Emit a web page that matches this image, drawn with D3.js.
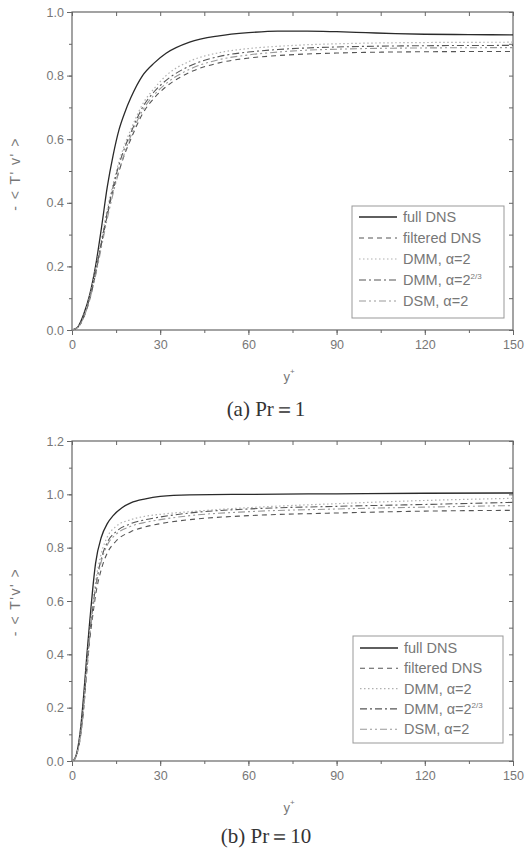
<!DOCTYPE html>
<html><head><meta charset="utf-8">
<script src="https://cdn.jsdelivr.net/npm/d3@7"></script>
<style>body{margin:0;background:#fff}svg{display:block}</style>
</head><body>
<svg id="c" width="530" height="849"></svg>
<script>
// ---- data ----
const seriesNames = ["full DNS", "filtered DNS", "DMM, α=2", "DMM, α=2", "DSM, α=2"];
const seriesSup = ["", "", "", "2/3", ""];
const xTicks = [0, 30, 60, 90, 120, 150];

// Panel (a) Pr=1
const aX = [0, 2, 4, 6, 8, 10, 12, 14, 16, 18, 20, 24, 28, 32, 40, 50, 60, 70, 80, 90, 100, 110, 120, 135, 150];
const aFull = [0, 0.01, 0.05, 0.11, 0.2, 0.32, 0.45, 0.55, 0.63, 0.685, 0.73, 0.8, 0.84, 0.87, 0.905, 0.925, 0.935, 0.94, 0.94, 0.938, 0.935, 0.932, 0.93, 0.929, 0.928];
const aX2 = [0, 2, 4, 6, 8, 10, 12, 14, 16, 18, 20, 24, 28, 32, 40, 50, 60, 70, 80, 90, 100, 120, 150];
const aFilt = [0, 0.008, 0.04, 0.095, 0.175, 0.27, 0.36, 0.44, 0.5, 0.555, 0.6, 0.68, 0.73, 0.765, 0.81, 0.84, 0.855, 0.863, 0.868, 0.871, 0.873, 0.875, 0.876];
const aDmm = [0, 0.009, 0.045, 0.105, 0.19, 0.285, 0.38, 0.46, 0.53, 0.585, 0.63, 0.71, 0.76, 0.8, 0.845, 0.872, 0.885, 0.892, 0.897, 0.9, 0.902, 0.904, 0.905];
const aDmm2 = [0, 0.008, 0.042, 0.1, 0.18, 0.275, 0.37, 0.45, 0.52, 0.575, 0.62, 0.7, 0.75, 0.785, 0.83, 0.86, 0.874, 0.882, 0.887, 0.89, 0.892, 0.894, 0.895];
const aDsm = [0, 0.008, 0.04, 0.095, 0.17, 0.26, 0.35, 0.43, 0.5, 0.56, 0.61, 0.69, 0.74, 0.775, 0.82, 0.85, 0.865, 0.874, 0.88, 0.883, 0.885, 0.887, 0.888];

// Panel (b) Pr=10
const bX = [0, 1, 2, 3, 4, 5, 6, 7, 8, 10, 12, 14, 17, 20, 25, 30, 40, 60, 90, 120, 150];
const bFull = [0, 0.01, 0.05, 0.13, 0.25, 0.39, 0.52, 0.64, 0.74, 0.84, 0.89, 0.92, 0.95, 0.968, 0.983, 0.992, 0.998, 1.0, 1.002, 1.004, 1.005];
const bX2 = [0, 1, 2, 3, 4, 5, 6, 7, 8, 10, 12, 15, 20, 25, 30, 40, 60, 90, 120, 150];
const bFilt = [0, 0.008, 0.04, 0.1, 0.2, 0.33, 0.45, 0.54, 0.62, 0.72, 0.78, 0.825, 0.86, 0.878, 0.89, 0.905, 0.92, 0.93, 0.937, 0.94];
const bDmm = [0, 0.009, 0.045, 0.12, 0.22, 0.36, 0.48, 0.59, 0.67, 0.78, 0.84, 0.88, 0.905, 0.918, 0.925, 0.935, 0.95, 0.965, 0.977, 0.985];
const bDmm2 = [0, 0.009, 0.045, 0.11, 0.21, 0.35, 0.47, 0.57, 0.65, 0.76, 0.82, 0.86, 0.89, 0.905, 0.915, 0.93, 0.945, 0.955, 0.962, 0.97];
const bDsm = [0, 0.008, 0.04, 0.1, 0.2, 0.34, 0.46, 0.56, 0.64, 0.75, 0.81, 0.85, 0.88, 0.895, 0.905, 0.92, 0.935, 0.945, 0.952, 0.958];

const aYTicks = [0, 0.2, 0.4, 0.6, 0.8, 1.0];
const bYTicks = [0, 0.2, 0.4, 0.6, 0.8, 1.0, 1.2];

// ---- styles ----
const styles = [
  {stroke: "#2a2a2a", dash: null, w: 1.3},
  {stroke: "#555", dash: "5,4", w: 1.1},
  {stroke: "#b0b0b0", dash: "1.5,2.5", w: 1.2},
  {stroke: "#555", dash: "7,3,2,3", w: 1.1},
  {stroke: "#999", dash: "7,3,2,3,2,3", w: 1.1}
];

const svg = d3.select("#c");
const axisCol = "#666", textCol = "#777";
const sans = "Liberation Sans, Arial, sans-serif";

function panel(cfg) {
  const x = d3.scaleLinear().domain([0, 150]).range([72, 513]);
  const y = d3.scaleLinear().domain([0, cfg.yMax]).range([cfg.bottom, cfg.top]);
  const g = svg.append("g");
  // frame
  g.append("rect").attr("x", x(0)).attr("y", y(cfg.yMax)).attr("width", x(150) - x(0)).attr("height", y(0) - y(cfg.yMax))
    .attr("fill", "none").attr("stroke", axisCol).attr("stroke-width", 1.2);
  const minorY = d3.range(0, cfg.yMax + 0.001, 0.1);
  const minorX = d3.range(0, 151, 15);
  // left axis
  g.append("g").attr("transform", `translate(${x(0)},0)`)
    .call(d3.axisLeft(y).tickValues(cfg.yTicks).tickFormat(d3.format(".1f")).tickSize(5).tickPadding(3));
  g.append("g").attr("transform", `translate(${x(0)},0)`)
    .call(d3.axisLeft(y).tickValues(minorY).tickFormat("").tickSize(3));
  // right axis inward
  g.append("g").attr("transform", `translate(${x(150)},0)`)
    .call(d3.axisLeft(y).tickValues(minorY).tickFormat("").tickSize(4));
  // bottom
  g.append("g").attr("transform", `translate(0,${y(0)})`)
    .call(d3.axisBottom(x).tickValues(xTicks).tickFormat(d3.format("d")).tickSize(5).tickPadding(5));
  g.append("g").attr("transform", `translate(0,${y(0)})`)
    .call(d3.axisBottom(x).tickValues(minorX).tickFormat("").tickSize(3));
  // top inward
  g.append("g").attr("transform", `translate(0,${y(cfg.yMax)})`)
    .call(d3.axisBottom(x).tickValues(minorX).tickFormat("").tickSize(4));
  g.selectAll(".domain").remove();
  g.selectAll(".tick line").attr("stroke", axisCol);
  g.selectAll(".tick text").attr("fill", textCol).style("font-family", sans).style("font-size", "12.5px");

  // lines
  const line = d3.line().x(d => x(d[0])).y(d => y(d[1])).curve(d3.curveMonotoneX);
  cfg.series.forEach((s, i) => {
    const xs = i === 0 ? cfg.xs0 : cfg.xs1;
    const pts = xs.map((v, k) => [v, s[k]]);
    g.append("path").datum(pts).attr("d", line).attr("fill", "none")
      .attr("stroke", styles[i].stroke).attr("stroke-width", styles[i].w)
      .attr("stroke-dasharray", styles[i].dash);
  });

  // legend
  const L = cfg.legend;
  g.append("rect").attr("x", L.x0).attr("y", L.y0).attr("width", L.x1 - L.x0).attr("height", L.y1 - L.y0)
    .attr("fill", "#fff").attr("stroke", "#999").attr("stroke-width", 1);
  seriesNames.forEach((n, i) => {
    const yy = L.first + i * L.step;
    g.append("line").attr("x1", L.x0 + 7).attr("x2", L.x0 + 45).attr("y1", yy).attr("y2", yy)
      .attr("stroke", styles[i].stroke).attr("stroke-width", styles[i].w).attr("stroke-dasharray", styles[i].dash);
    const t = g.append("text").attr("x", L.x0 + 51).attr("y", yy + 5).attr("fill", textCol)
      .style("font-family", sans).style("font-size", "14.5px").text(n);
    if (seriesSup[i]) t.append("tspan").attr("dy", -6).style("font-size", "8px").text(seriesSup[i]);
  });

  // x label
  const xl = g.append("text").attr("x", 289).attr("y", cfg.xlabY).attr("text-anchor", "middle").attr("fill", textCol)
    .style("font-family", sans).style("font-size", "13px").text("y");
  xl.append("tspan").attr("dy", -7).style("font-size", "8px").text("+");
  // y label
  g.append("text").attr("transform", `translate(20,${cfg.ylabY}) rotate(-90)`).attr("text-anchor", "middle").attr("fill", textCol)
    .style("font-family", sans).style("font-size", "14px").style("letter-spacing", "1.5px").text(cfg.ylab);
  // caption
  g.append("text").attr("x", 266).attr("y", cfg.capY).attr("text-anchor", "middle").attr("fill", "#333")
    .style("font-family", "Liberation Serif, Times New Roman, serif").style("font-size", "21px").text(cfg.cap);
}

panel({yMax: 1.0, top: 12, bottom: 330, yTicks: aYTicks, xs0: aX, xs1: aX2,
  series: [aFull, aFilt, aDmm, aDmm2, aDsm],
  legend: {x0: 352, x1: 504, y0: 206, y1: 318, first: 217, step: 21},
  xlabY: 381, ylabY: 174, ylab: "- < T' v' >", capY: 416, cap: "(a)  Pr＝1"});
panel({yMax: 1.2, top: 441, bottom: 761, yTicks: bYTicks, xs0: bX, xs1: bX2,
  series: [bFull, bFilt, bDmm, bDmm2, bDsm],
  legend: {x0: 353, x1: 503, y0: 636, y1: 743, first: 648, step: 20.3},
  xlabY: 812, ylabY: 602, ylab: "- < T'v' >", capY: 843, cap: "(b)  Pr＝10"});
</script>
</body></html>
